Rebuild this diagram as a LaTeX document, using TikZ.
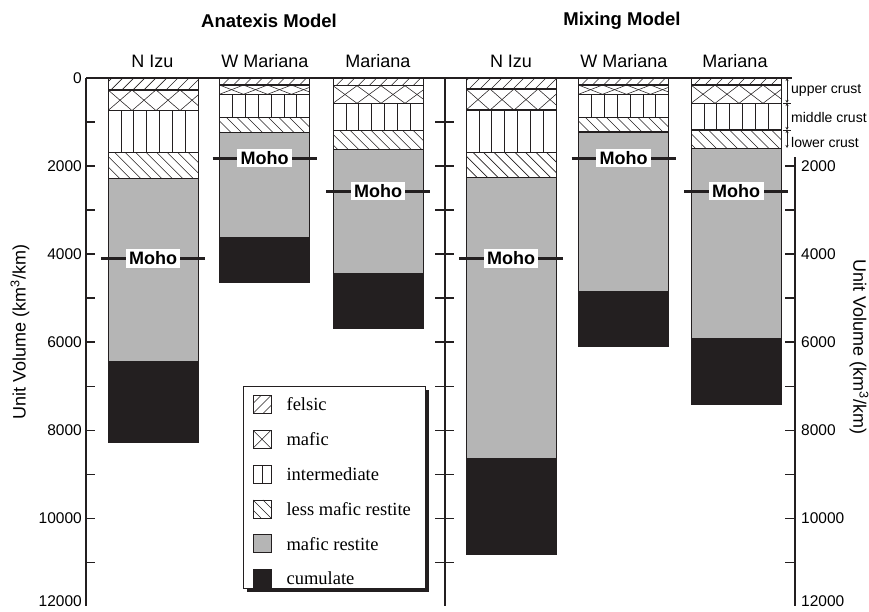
\documentclass[tikz,border=0pt]{standalone}
\usepackage{fontspec}
\setmainfont{Liberation Sans}
\newfontfamily\legendfont{Liberation Serif}
\usetikzlibrary{positioning,arrows.meta,shadows}
\definecolor{ink}{HTML}{231F20}
\definecolor{restite}{HTML}{B5B5B5}

% one column: left x, bottoms of felsic, mafic, intermediate, less mafic restite,
% mafic restite, cumulate (km3/km), moho depth, name of the moho tag
\newcommand{\crustcol}[9]{%
  \pgfmathsetmacro\ya{78+0.044*#2}
  \pgfmathsetmacro\yb{78+0.044*#3}
  \pgfmathsetmacro\yc{78+0.044*#4}
  \pgfmathsetmacro\yd{78+0.044*#5}
  \pgfmathsetmacro\ye{78+0.044*#6}
  \pgfmathsetmacro\yf{78+0.044*#7}
  \pgfmathsetmacro\ym{78+0.044*#8}
  \pgfmathsetmacro\xr{#1+90}
  \fill[restite] (#1,\yd) rectangle (\xr,\ye);
  \fill[ink] (#1,\ye) rectangle (\xr,\yf);
  \begin{scope}
    \clip (#1,78) rectangle (\xr,\ya);
    \foreach \k in {0,...,12} \draw[hatch] ({#1-30+11*\k},\ya) -- ++(30,-30);
  \end{scope}
  \begin{scope}
    \clip (#1,\ya) rectangle (\xr,\yb);
    \foreach \k in {0,...,3} {
      \draw[hatch] ({#1+24*\k},\ya) -- ({#1+24*\k+24},\yb);
      \draw[hatch] ({#1+24*\k+24},\ya) -- ({#1+24*\k},\yb);
    }
  \end{scope}
  \foreach \k in {1,...,6} \draw[hatch] ({#1+\k*90/7},\yb) -- ({#1+\k*90/7},\yc);
  \begin{scope}
    \clip (#1,\yc) rectangle (\xr,\yd);
    \foreach \k in {0,...,13} \draw[hatch] ({#1-35+10.5*\k},\yc) -- ++(35,35);
  \end{scope}
  \foreach \yy in {\ya,\yb,\yc,\yd} \draw[bound] (#1,\yy) -- (\xr,\yy);
  \draw[colline] (#1,78) rectangle (\xr,\yf);
  \draw[moho] ({#1-7},\ym) -- ({\xr+7},\ym);
  \node[mohotag] (#9) at ({#1+45},\ym) {Moho};
}

\begin{document}
\begin{tikzpicture}[x=1pt, y=-1pt,
  hatch/.style={ink, line width=0.55pt},
  bound/.style={ink, line width=1.3pt},
  colline/.style={ink, line width=1pt},
  axis/.style={ink, line width=1.1pt},
  moho/.style={ink, line width=3pt},
  mohotag/.style={fill=white, inner xsep=3.5pt, inner ysep=2.5pt, font=\bfseries\fontsize{18}{19}\selectfont},
  title/.style={font=\bfseries\fontsize{18.5}{20}\selectfont},
  colname/.style={font=\fontsize{18}{20}\selectfont},
  ticklab/.style={inner sep=1pt, font=\fontsize{15.5}{17}\selectfont},
  crustlab/.style={anchor=west, inner sep=0pt, font=\fontsize{14}{16}\selectfont},
  axlab/.style={font=\fontsize{18}{20}\selectfont},
  dimarrow/.style={ink, line width=0.6pt, {Stealth[length=3pt,width=3pt]}-{Stealth[length=3pt,width=3pt]}},
  swatch/.style={draw=ink, line width=0.8pt, minimum size=18pt, inner sep=0pt},
  legtext/.style={inner sep=0pt, font=\legendfont\fontsize{18.5}{20}\selectfont}]

\useasboundingbox (0,0) rectangle (869,611);

% titles
\node[title] (anat) at (269,21) {Anatexis Model};
\node[title] (mix) at (622,21) {Mixing Model};
\node[colname] (nizuA) at (152.5,61.5) {N Izu};
\node[colname] (wmarA) at (265,61.5) {W Mariana};
\node[colname] (marA) at (378,61.5) {Mariana};
\node[colname] (nizuM) at (511,61.5) {N Izu};
\node[colname] (wmarM) at (624,61.5) {W Mariana};
\node[colname] (marM) at (735,61.5) {Mariana};

% axes
\draw[axis] (86,78) -- (86,606);
\draw[axis] (445,78) -- (445,606);
\draw[axis] (795,157) -- (795,606);
\draw[axis] (86,78) -- (792,78);
\foreach \v in {1000,2000,...,11000} {
  \draw[axis] (86,{78+0.044*\v}) -- ++(9,0);
  \draw[axis] (435,{78+0.044*\v}) -- ++(19,0);
}
\foreach \v in {2000,3000,...,11000} \draw[axis] (785,{78+0.044*\v}) -- ++(10,0);
\foreach \v in {0,2000,...,10000} \node[ticklab, anchor=east] (yl\v) at (83,{78+0.044*\v}) {\v};
\foreach \v in {2000,4000,...,10000} \node[ticklab, anchor=west] (yr\v) at (800,{78+0.044*\v}) {\v};
\node[ticklab, anchor=south east] (yl12000) at (83,608) {12000};
\node[ticklab, anchor=south west] (yr12000) at (800,608) {12000};
\node[axlab, rotate=90] (ylab) at (20,332) {Unit Volume (km\textsuperscript{3}/km)};
\node[axlab, rotate=-90] (yrlab) at (859,347) {Unit Volume (km\textsuperscript{3}/km)};

% anatexis model
\crustcol{108}{270}{740}{1700}{2280}{6430}{8280}{4100}{mohoNIzuA}
\crustcol{219.5}{160}{370}{900}{1240}{3620}{4640}{1825}{mohoWMarA}
\crustcol{333}{175}{575}{1200}{1620}{4420}{5690}{2570}{mohoMarA}
% mixing model
\crustcol{466}{250}{730}{1690}{2260}{8640}{10820}{4100}{mohoNIzuM}
\crustcol{578.5}{160}{370}{900}{1230}{4840}{6090}{1825}{mohoWMarM}
\crustcol{691}{160}{575}{1180}{1600}{5910}{7410}{2570}{mohoMarM}

% crust thickness marks
\coordinate (cr0) at (787,78);
\coordinate (cr1) at (787,103);
\coordinate (cr2) at (787,130);
\coordinate (cr3) at (787,148);
\draw[dimarrow] (cr0) -- (cr1);
\draw[dimarrow] (cr1) -- (cr2);
\draw[dimarrow] (cr2) -- (cr3);
\draw[ink, line width=0.6pt] ([xshift=-4pt]cr1) -- ([xshift=4pt]cr1);
\draw[ink, line width=0.6pt] ([xshift=-4pt]cr2) -- ([xshift=4pt]cr2);
\node[crustlab] (upc) at (791,90) {upper crust};
\node[crustlab] (midc) at (791,117) {middle crust};
\node[crustlab] (lowc) at (791,142.5) {lower crust};

% legend
\node[draw=ink, fill=white, line width=1pt, minimum width=182pt, minimum height=202pt,
  drop shadow={shadow xshift=3.5pt, shadow yshift=-3.5pt, fill=ink, opacity=1}] (legend) at (334,487) {};
\node[swatch, path picture={\foreach \f in {-10,0,10}
    \draw[hatch] ([xshift=\f*1pt]path picture bounding box.south west) -- ++(18pt,18pt);}]
  (swFel) at ([xshift=19.5pt, yshift=-19pt]legend.north west) {};
\node[swatch, below=16pt of swFel, path picture={
    \draw[hatch] (path picture bounding box.south west) -- (path picture bounding box.north east);
    \draw[hatch] (path picture bounding box.north west) -- (path picture bounding box.south east);}]
  (swMaf) {};
\node[swatch, below=16pt of swMaf, path picture={
    \draw[hatch] (path picture bounding box.south) -- (path picture bounding box.north);}]
  (swInt) {};
\node[swatch, below=16pt of swInt, path picture={\foreach \f in {-10,0,10}
    \draw[hatch] ([xshift=\f*1pt]path picture bounding box.north west) -- ++(18pt,-18pt);}]
  (swLmr) {};
\node[swatch, below=16pt of swLmr, fill=restite] (swRes) {};
\node[swatch, below=16pt of swRes, fill=ink] (swCum) {};
\node[legtext, right=15pt of swFel] (txFel) {felsic};
\node[legtext, right=15pt of swMaf] (txMaf) {mafic};
\node[legtext, right=15pt of swInt] (txInt) {intermediate};
\node[legtext, right=15pt of swLmr] (txLmr) {less mafic restite};
\node[legtext, right=15pt of swRes] (txRes) {mafic restite};
\node[legtext, right=15pt of swCum] (txCum) {cumulate};
\end{tikzpicture}
\end{document}
